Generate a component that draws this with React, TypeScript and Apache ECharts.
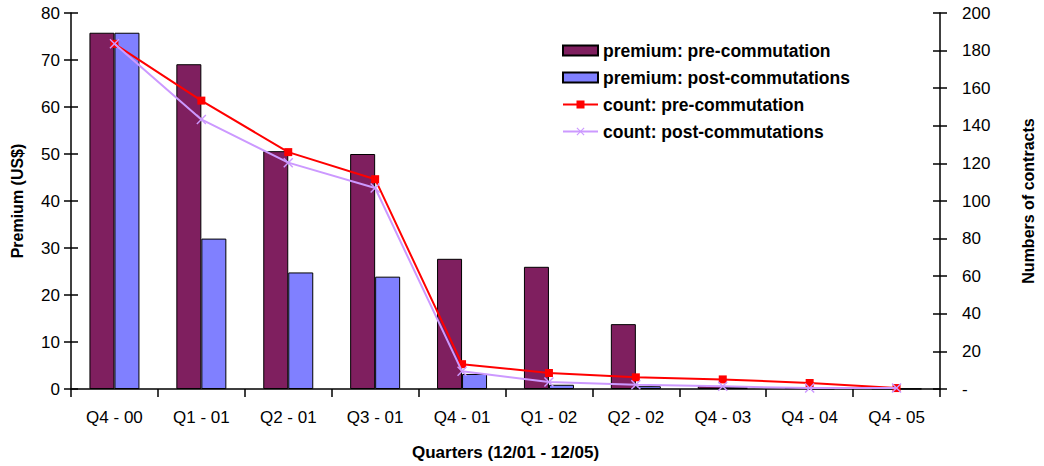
import React, { useEffect, useRef } from "react";
import * as echarts from "echarts";

const categories = ["Q4 - 00", "Q1 - 01", "Q2 - 01", "Q3 - 01", "Q4 - 01", "Q1 - 02", "Q2 - 02", "Q4 - 03", "Q4 - 04", "Q4 - 05"];
const premiumPre = [75.8, 69.1, 50.6, 50.0, 27.7, 26.0, 13.8, 0.6, 0.3, 0.1];
const premiumPost = [75.8, 32.0, 24.8, 23.9, 3.2, 0.9, 0.6, 0.4, 0.1, 0.05];
const countPre = [183.6, 153.4, 126.0, 111.6, 13.2, 8.5, 6.2, 5.1, 3.2, 0.5];
const countPost = [183.6, 143.4, 120.4, 106.9, 9.4, 3.7, 2.3, 1.4, 0.5, 0.5];

const FONT = "Liberation Sans, Arial, sans-serif";
const X_SYMBOL = "path://M0,1 L1,0 L5,4 L9,0 L10,1 L6,5 L10,9 L9,10 L5,6 L1,10 L0,9 L4,5 Z";

export default function App() {
  const ref = useRef<HTMLDivElement>(null);
  useEffect(() => {
    if (!ref.current) return;
    const chart = echarts.init(ref.current, null, { renderer: "svg" });
    const axisLine = { show: true, lineStyle: { color: "#000", width: 1.5 } };
    chart.setOption({
      animation: false,
      backgroundColor: "#fff",
      textStyle: { fontFamily: FONT },
      grid: { left: 71, right: 89, top: 13, bottom: 75, containLabel: false },
      legend: {
        orient: "vertical",
        left: 557,
        top: 36,
        itemWidth: 35,
        itemHeight: 10,
        itemGap: 8,
        textStyle: { fontFamily: FONT, fontSize: 17.5, fontWeight: "bold", color: "#000", lineHeight: 19 },
        data: [
          { name: "premium: pre-commutation", icon: "rect" },
          { name: "premium: post-commutations", icon: "rect" },
          { name: "count: pre-commutation" },
          { name: "count: post-commutations" },
        ],
      },
      xAxis: {
        type: "category",
        data: categories,
        axisLine,
        axisTick: { show: true, alignWithLabel: false, length: 8, lineStyle: { color: "#000", width: 1.5 } },
        axisLabel: { color: "#000", fontSize: 17, fontFamily: FONT, margin: 20 },
        name: "Quarters (12/01 - 12/05)",
        nameLocation: "middle",
        nameGap: 55,
        nameTextStyle: { color: "#000", fontSize: 17, fontWeight: "bold", fontFamily: FONT },
      },
      yAxis: [
        {
          type: "value",
          position: "left",
          min: 0,
          max: 80,
          interval: 10,
          axisLine,
          axisTick: { show: true, length: 7, lineStyle: { color: "#000", width: 1.5 } },
          axisLabel: { color: "#000", fontSize: 17, fontFamily: FONT, margin: 11 },
          splitLine: { show: false },
          name: "Premium (US$)",
          nameLocation: "middle",
          nameGap: 46,
          nameRotate: 90,
          nameTextStyle: { color: "#000", fontSize: 16, fontWeight: "bold", fontFamily: FONT },
        },
        {
          type: "value",
          position: "right",
          min: 0,
          max: 200,
          interval: 20,
          axisLine,
          axisTick: { show: true, length: 7, lineStyle: { color: "#000", width: 1.5 } },
          axisLabel: {
            color: "#000",
            fontSize: 17,
            fontFamily: FONT,
            margin: 22,
            formatter: (v: number) => (v === 0 ? "-" : String(v)),
          },
          splitLine: { show: false },
          name: "Numbers of contracts",
          nameLocation: "middle",
          nameGap: 80,
          nameRotate: 90,
          nameTextStyle: { color: "#000", fontSize: 16, fontWeight: "bold", fontFamily: FONT },
        },
        {
          type: "value",
          position: "left",
          min: 0,
          max: 80,
          interval: 10,
          axisLine: { show: false },
          axisTick: { show: true, inside: true, length: 7, lineStyle: { color: "#000", width: 1.5 } },
          axisLabel: { show: false },
          splitLine: { show: false },
        },
        {
          type: "value",
          position: "right",
          min: 0,
          max: 200,
          interval: 20,
          axisLine: { show: false },
          axisTick: { show: true, inside: true, length: 7, lineStyle: { color: "#000", width: 1.5 } },
          axisLabel: { show: false },
          splitLine: { show: false },
        },
      ],
      series: [
        {
          name: "premium: pre-commutation",
          type: "bar",
          yAxisIndex: 0,
          data: premiumPre,
          barWidth: 25,
          barGap: "0%",
          itemStyle: { color: "#7F1F5F", borderColor: "#000", borderWidth: 1 },
        },
        {
          name: "premium: post-commutations",
          type: "bar",
          yAxisIndex: 0,
          data: premiumPost,
          barWidth: 25,
          barGap: "0%",
          itemStyle: { color: "#8080FF", borderColor: "#000", borderWidth: 1 },
        },
        {
          name: "count: pre-commutation",
          type: "line",
          yAxisIndex: 1,
          data: countPre,
          symbol: "rect",
          symbolSize: 8,
          lineStyle: { color: "#FF0000", width: 2 },
          itemStyle: { color: "#FF0000" },
          z: 4,
        },
        {
          name: "count: post-commutations",
          type: "line",
          yAxisIndex: 1,
          data: countPost,
          symbol: X_SYMBOL,
          symbolSize: 10,
          lineStyle: { color: "#CC99FF", width: 2 },
          itemStyle: { color: "#CC99FF" },
          z: 5,
        },
      ],
    });
    return () => chart.dispose();
  }, []);
  return <div ref={ref} style={{ width: 1044, height: 466, position: "absolute", left: 0, top: 0 }} />;
}
